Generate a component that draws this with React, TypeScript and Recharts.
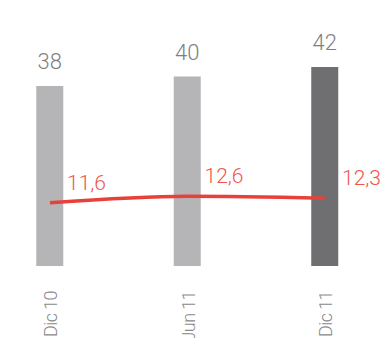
import { ComposedChart, Bar, Line, XAxis, YAxis, Cell, LabelList } from "recharts";

const periods = ["Dic 10", "Jun 11", "Dic 11"];
const barValues = [38, 40, 42];
const lineValues = [11.6, 12.6, 12.3];
const barColors = ["#b5b5b7", "#b5b5b7", "#6f6e70"];

const data = periods.map((p, i) => ({ name: p, bar: barValues[i], line: lineValues[i] }));

const fmt = (v: number) => String(v).replace(".", ",");

const font = "Roboto, 'DejaVu Sans', sans-serif";

function XTick(props: any) {
  const { x, y, payload } = props;
  return (
    <text
      transform={`translate(${x + 7},${y + 17}) rotate(-90)`}
      textAnchor="end"
      fill="#8a8a8c"
      fontSize={18}
      fontWeight={300}
      letterSpacing={-0.6}
      fontFamily={font}
    >
      {payload.value}
    </text>
  );
}

function BarLabel(props: any) {
  const { x, y, width, value } = props;
  return (
    <text
      x={x + width / 2}
      y={y - 24}
      textAnchor="middle"
      dominantBaseline="central"
      fill="#7e7e80"
      fontSize={22}
      fontWeight={300}
      fontFamily={font}
    >
      {value}
    </text>
  );
}

function LineLabel(props: any) {
  const { x, y, value } = props;
  return (
    <text
      x={x + 17}
      y={y - 20}
      textAnchor="start"
      dominantBaseline="central"
      fill="#f0554c"
      fontSize={21}
      fontWeight={300}
      fontFamily={font}
    >
      {fmt(value)}
    </text>
  );
}

export default function App() {
  return (
    <div style={{ position: "fixed", left: 0, top: 0, width: 380, height: 338, background: "#fff" }}>
      <ComposedChart width={380} height={338} data={data} margin={{ top: 29, right: 0, bottom: 0, left: 0 }}>
        <XAxis
          dataKey="name"
          scale="point"
          padding={{ left: 50, right: 55 }}
          axisLine={false}
          tickLine={false}
          height={72}
          interval={0}
          tick={<XTick />}
        />
        <YAxis yAxisId="bar" hide domain={[0, 50]} />
        <YAxis yAxisId="line" hide domain={[2, 38]} orientation="right" />
        <Bar yAxisId="bar" dataKey="bar" barSize={27} isAnimationActive={false}>
          {data.map((d, i) => (
            <Cell key={d.name} fill={barColors[i]} />
          ))}
          <LabelList dataKey="bar" content={<BarLabel />} />
        </Bar>
        <Line
          yAxisId="line"
          dataKey="line"
          type="monotone"
          stroke="#e8413a"
          strokeWidth={3.5}
          dot={false}
          isAnimationActive={false}
        >
          <LabelList dataKey="line" content={<LineLabel />} />
        </Line>
      </ComposedChart>
    </div>
  );
}
